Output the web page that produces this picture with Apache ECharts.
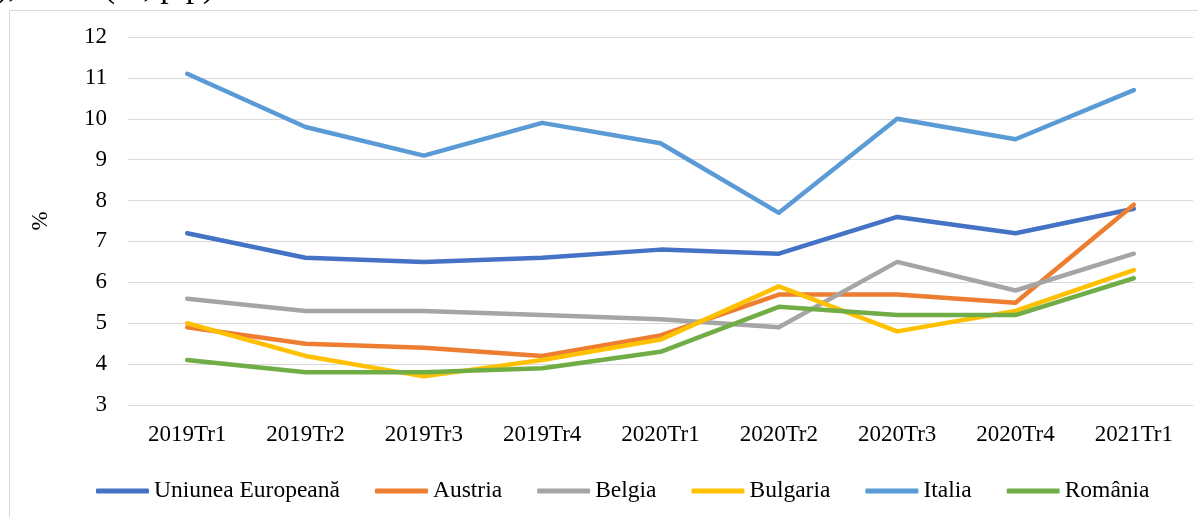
<!DOCTYPE html>
<html>
<head>
<meta charset="utf-8">
<script src="https://cdn.jsdelivr.net/npm/echarts@6/dist/echarts.min.js"></script>
<style>
  html, body { margin: 0; padding: 0; background: #fff; }
  #e_chart_1 { width: 1198px; height: 517px; }
</style>
</head>
<body>
<div id="e_chart_1"></div>
<script>
// data
var quarters = ['2019Tr1', '2019Tr2', '2019Tr3', '2019Tr4', '2020Tr1', '2020Tr2', '2020Tr3', '2020Tr4', '2021Tr1'];
var uniuneaEuropeana = [7.2, 6.6, 6.5, 6.6, 6.8, 6.7, 7.6, 7.2, 7.8];
var austria = [4.9, 4.5, 4.4, 4.2, 4.7, 5.7, 5.7, 5.5, 7.9];
var belgia = [5.6, 5.3, 5.3, 5.2, 5.1, 4.9, 6.5, 5.8, 6.7];
var bulgaria = [5.0, 4.2, 3.7, 4.1, 4.6, 5.9, 4.8, 5.3, 6.3];
var italia = [11.1, 9.8, 9.1, 9.9, 9.4, 7.7, 10.0, 9.5, 10.7];
var romania = [4.1, 3.8, 3.8, 3.9, 4.3, 5.4, 5.2, 5.2, 6.1];

var seriesNames = ['Uniunea Europeană', 'Austria', 'Belgia', 'Bulgaria', 'Italia', 'România'];
var seriesData = [uniuneaEuropeana, austria, belgia, bulgaria, italia, romania];
var seriesColors = ['#4472C4', '#ED7D31', '#A5A5A5', '#FFC000', '#5B9BD5', '#70AD47'];

var fontFam = "'Liberation Serif', 'Times New Roman', serif";

var eChart_1 = echarts.init(document.getElementById('e_chart_1'));

var option = {
	animation: false,
	color: seriesColors,
	graphic: [
		{
			type: 'rect',
			shape: { x: 9.5, y: 10.5, width: 1250, height: 600 },
			style: { fill: 'none', stroke: '#d9d9d9', lineWidth: 1 },
			silent: true
		},
		{
			// caption above the chart, cut off by the picture's top edge
			type: 'text',
			left: -3,
			top: -29,
			style: {
				text: '), Italia (%, p.p).',
				font: "34px 'Liberation Serif', serif",
				fill: '#000'
			},
			silent: true
		}
	],
	grid: {
		left: 128,
		right: 5,
		top: 37,
		bottom: 112
	},
	legend: {
		left: 91,
		top: 474,
		itemWidth: 53,
		itemHeight: 5,
		itemGap: 35,
		icon: 'roundRect',
		data: seriesNames,
		textStyle: {
			color: '#000',
			fontFamily: fontFam,
			fontSize: 23.5
		}
	},
	xAxis: {
		type: 'category',
		data: quarters,
		boundaryGap: true,
		axisLine: {
			show: true,
			lineStyle: { color: '#d9d9d9', width: 1 }
		},
		axisTick: { show: false },
		axisLabel: {
			color: '#000',
			fontFamily: fontFam,
			fontSize: 23,
			margin: 18
		}
	},
	yAxis: {
		type: 'value',
		min: 3,
		max: 12,
		interval: 1,
		name: '%',
		nameLocation: 'middle',
		nameGap: 76,
		nameTextStyle: {
			color: '#000',
			fontFamily: fontFam,
			fontSize: 23
		},
		axisLine: { show: false },
		axisTick: { show: false },
		axisLabel: {
			color: '#000',
			fontFamily: fontFam,
			fontSize: 23,
			margin: 21
		},
		splitLine: {
			lineStyle: { color: '#d9d9d9', width: 1 }
		}
	},
	series: seriesNames.map(function (name, i) {
		return {
			name: name,
			type: 'line',
			data: seriesData[i],
			symbol: 'none',
			lineStyle: {
				color: seriesColors[i],
				width: 4.5,
				cap: 'round',
				join: 'round'
			},
			itemStyle: { color: seriesColors[i] }
		};
	})
};

eChart_1.setOption(option);
eChart_1.resize();
</script>
</body>
</html>
